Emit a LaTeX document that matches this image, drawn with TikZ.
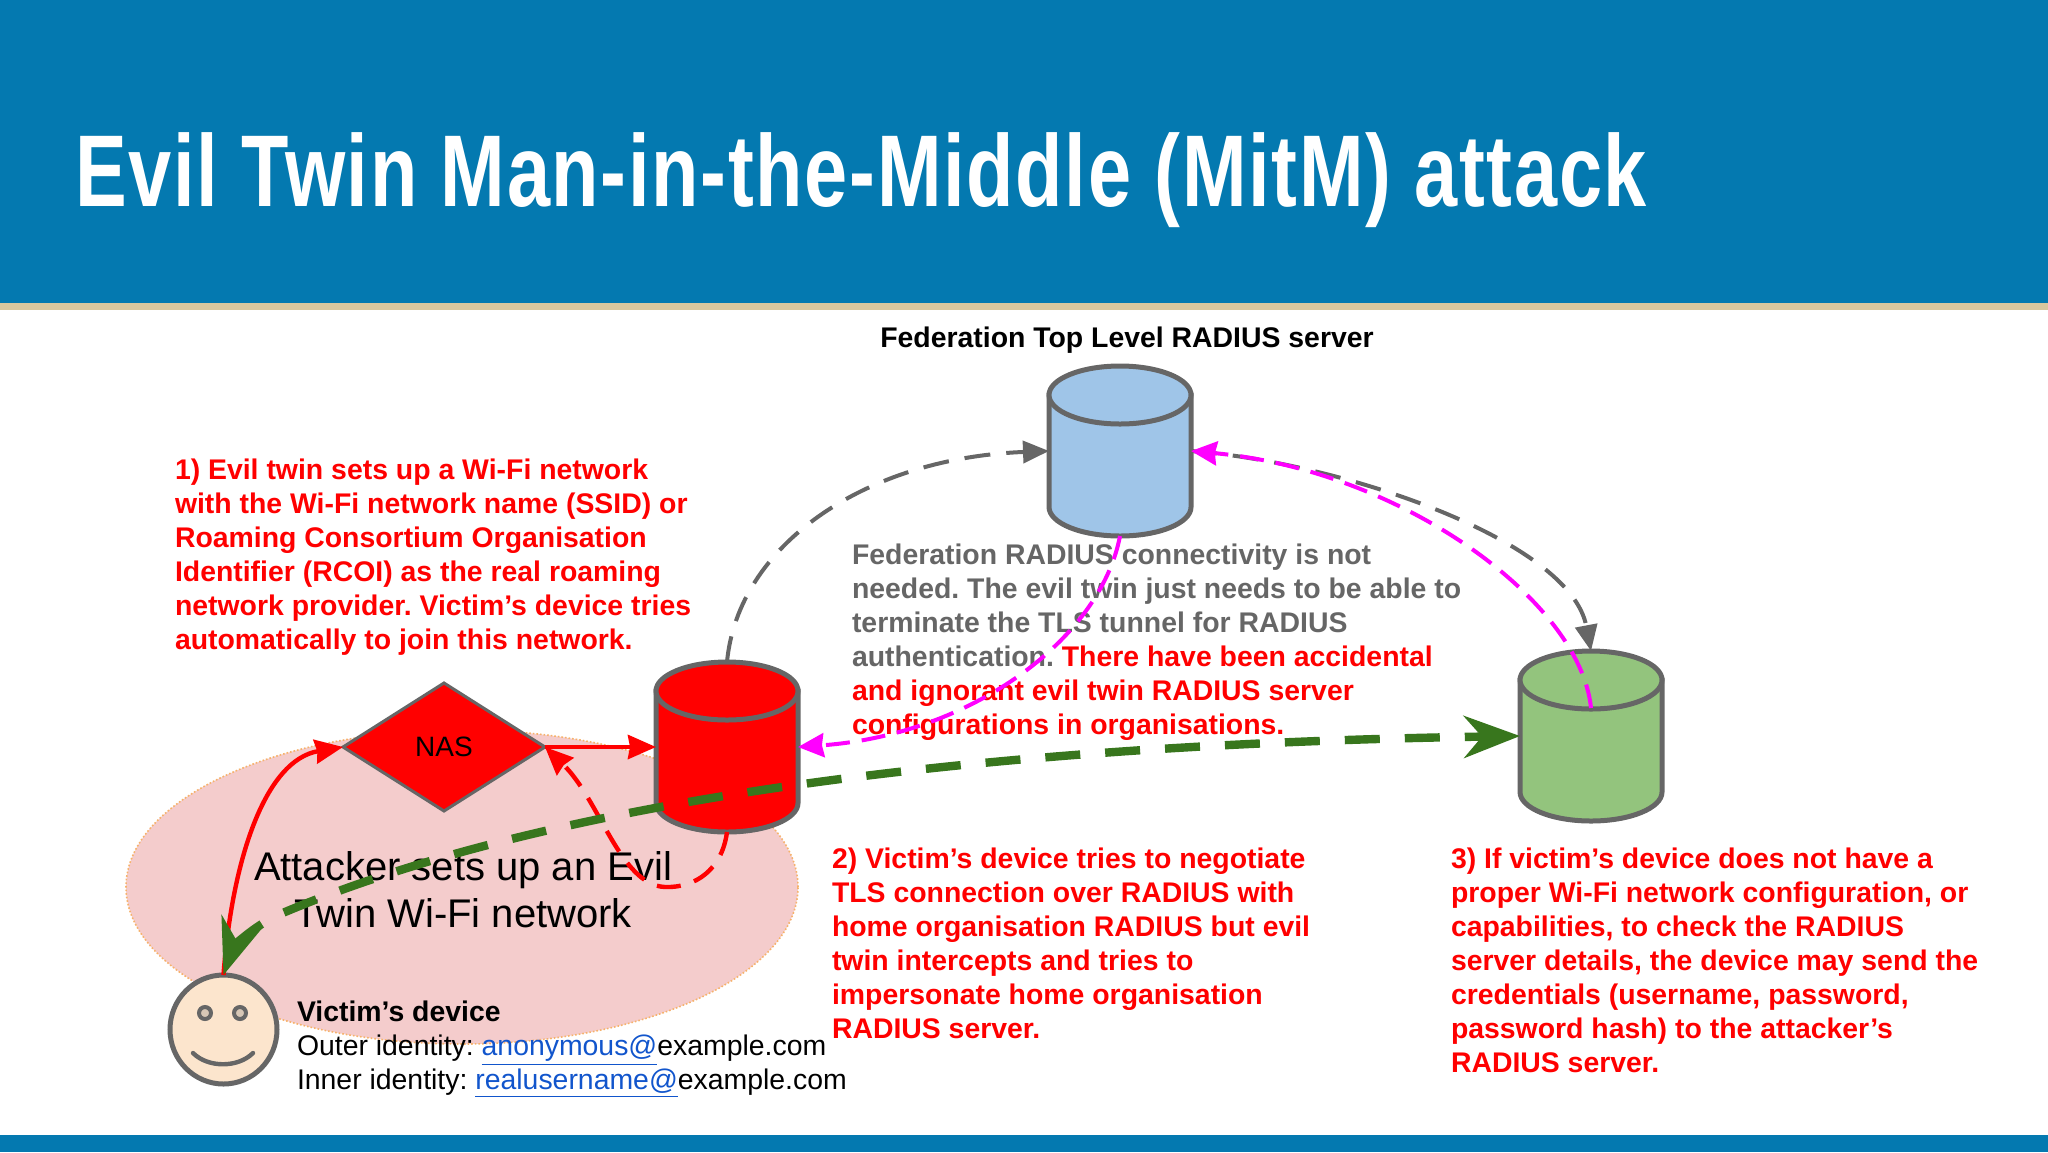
\documentclass[tikz,border=0pt]{standalone}
\usepackage{fontspec}
\setmainfont{Liberation Sans}
\usetikzlibrary{arrows.meta,shapes.geometric}
\definecolor{headblue}{HTML}{0479B0}
\definecolor{beige}{HTML}{D9C79E}
\definecolor{cgray}{HTML}{666666}
\definecolor{cblue}{HTML}{9FC5E8}
\definecolor{cgreen}{HTML}{93C47D}
\definecolor{dgreen}{HTML}{38761D}
\definecolor{pinkarea}{HTML}{F4CCCC}
\definecolor{areaedge}{HTML}{F6B26B}
\definecolor{skin}{HTML}{FCE5CD}
\definecolor{linkblue}{HTML}{1155CC}
\definecolor{magent}{HTML}{FF00FF}
\tikzset{
  x=0.5pt,y=-0.5pt,
  cylbox/.style={rectangle,minimum width=71pt,minimum height=85pt,inner sep=0pt,outer sep=0pt},
  cylline/.style={draw=cgray,line width=2.5pt},
  body/.style={inner sep=0pt,outer sep=0pt,anchor=north west,align=left,font=\fontsize{14.2}{17}\selectfont\frenchspacing},
  redtext/.style={body,text=red,font=\fontsize{14.2}{17}\selectfont\bfseries\frenchspacing},
  graydash/.style={draw=cgray,line width=2pt,dash pattern=on 13pt off 8pt,-{Stealth[length=13pt,width=11pt,inset=0pt]}},
  magdash/.style={draw=magent,line width=2pt,dash pattern=on 12pt off 6pt,-{Stealth[length=13pt,width=12pt,inset=1pt]}},
  redsolid/.style={draw=red,line width=2.2pt,-{Stealth[length=14pt,width=12pt,inset=1pt]}},
  reddash/.style={draw=red,line width=2.2pt,dash pattern=on 12pt off 7pt,-{Stealth[length=14pt,width=12pt,inset=1pt]}},
  greendash/.style={draw=dgreen,line width=4.2pt,dash pattern=on 17.5pt off 12.5pt,
     {Stealth[length=28pt,width=21pt,inset=9pt]}-{Stealth[length=28pt,width=21pt,inset=9pt]}},
}
\newcommand{\cylnode}[4]{%
  \node[cylbox] (#1) at (#2,#3) {};
  \begin{scope}[shift={(#2,#3)}]
    \path[cylline,fill=#4] (-71,-56) -- (-71,56) arc[start angle=180,end angle=0,x radius=71,y radius=29] -- (71,-56) -- cycle;
    \path[cylline,fill=#4] (0,-56) ellipse [x radius=71,y radius=29];
  \end{scope}}
\begin{document}
\begin{tikzpicture}
\useasboundingbox (0,0) rectangle (2048,1152);
% bands
\fill[headblue] (0,0) rectangle (2048,303);
\fill[beige] (0,303) rectangle (2048,310);
\fill[headblue] (0,1135) rectangle (2048,1152);
\node[inner sep=0pt,anchor=base west,text=white] (title) at (75,206)
  {\scalebox{0.76}[1]{\fontsize{51}{60}\selectfont\addfontfeature{LetterSpace=2.2}\bfseries Evil Twin Man-in-the-Middle (MitM) attack}};
% attacker area
\node[ellipse,fill=pinkarea,draw=areaedge,densely dotted,line width=0.8pt,minimum width=336pt,minimum height=157pt,inner sep=0pt] (area) at (462,887) {};
\node[inner sep=0pt,align=center,font=\fontsize{20}{23.5}\selectfont,anchor=north] (attacker) at (463,851) {Attacker sets up an Evil\\Twin Wi-Fi network};
% texts
\node[anchor=base,inner sep=0pt,font=\fontsize{14.2}{17}\selectfont\bfseries] (fedtitle) at (1127,347) {Federation Top Level RADIUS server};
\node[redtext] (step1) at (175,459) {1) Evil twin sets up a Wi-Fi network\\with the Wi-Fi network name (SSID) or\\Roaming Consortium Organisation\\Identifier (RCOI) as the real roaming\\network provider. Victim’s device tries\\automatically to join this network.};
\node[redtext,text=cgray] (note) at (852,544) {Federation RADIUS connectivity is not\\needed. The evil twin just needs to be able to\\terminate the TLS tunnel for RADIUS\\authentication. \textcolor{red}{There have been accidental}\\\textcolor{red}{and ignorant evil twin RADIUS server}\\\textcolor{red}{configurations in organisations.}};
\node[redtext] (step2) at (832,848) {2) Victim’s device tries to negotiate\\TLS connection over RADIUS with\\home organisation RADIUS but evil\\twin intercepts and tries to\\impersonate home organisation\\RADIUS server.};
\node[redtext] (step3) at (1451,848) {3) If victim’s device does not have a\\proper Wi-Fi network configuration, or\\capabilities, to check the RADIUS\\server details, the device may send the\\credentials (username, password,\\password hash) to the attacker’s\\RADIUS server.};
\node[body] (victim) at (297,1001) {\textbf{Victim’s device}\\Outer identity: \textcolor{linkblue}{\underline{anonymous@}}example.com\\Inner identity: \textcolor{linkblue}{\underline{realusername@}}example.com};
% nodes
\cylnode{blue}{1120}{451}{cblue}
\cylnode{redsrv}{727}{747}{red}
\cylnode{green}{1591}{736}{cgreen}
\coordinate (greenmid) at (1591,708);
\node[diamond,shape aspect=1.58,fill=red,draw=cgray,line width=1.5pt,minimum width=101pt,minimum height=64pt,inner sep=0pt,outer sep=0pt,font=\fontsize{14}{16}\selectfont] (nas) at (444,747) {NAS};
\node[ellipse,fill=skin,draw=cgray,line width=2.5pt,minimum width=53.5pt,minimum height=54.5pt,inner sep=0pt,outer sep=0pt] (face) at (223.5,1029.5) {};
\draw[cgray,line width=2pt,fill=skin!70!gray] (205,1013) circle [radius=6];
\draw[cgray,line width=2pt,fill=skin!70!gray] (240,1013) circle [radius=6];
\draw[cgray,line width=2.2pt,line cap=round] (193,1053) .. controls (208,1068) and (238,1068) .. (253,1053);
% connectors
\coordinate (redlow) at (665,887);
\coordinate (greenbend) at (285,912);
\draw[graydash] (redsrv.north) .. controls (738,545) and (865,458) .. (blue.west);
\draw[graydash] (blue.east) .. controls (1340,462) and (1570,540) .. (green.north);
\draw[magdash] (greenmid) .. controls (1580,600) and (1400,470) .. (blue.east);
\draw[magdash] (blue.south) .. controls (1100,640) and (970,735) .. (redsrv.east);
\draw[redsolid] (face.north) .. controls (232,860) and (265,760) .. (nas.west);
\draw[redsolid] (nas.east) -- (redsrv.west);
\draw[reddash] (redsrv.south) .. controls (722,870) and (695,888) .. (redlow) .. controls (620,885) and (600,800) .. (nas.east);
\draw[greendash] (face.north) .. controls (232,950) and (252,925) .. (greenbend) .. controls (540,805) and (950,745) .. (green.west);
\end{tikzpicture}
\end{document}
